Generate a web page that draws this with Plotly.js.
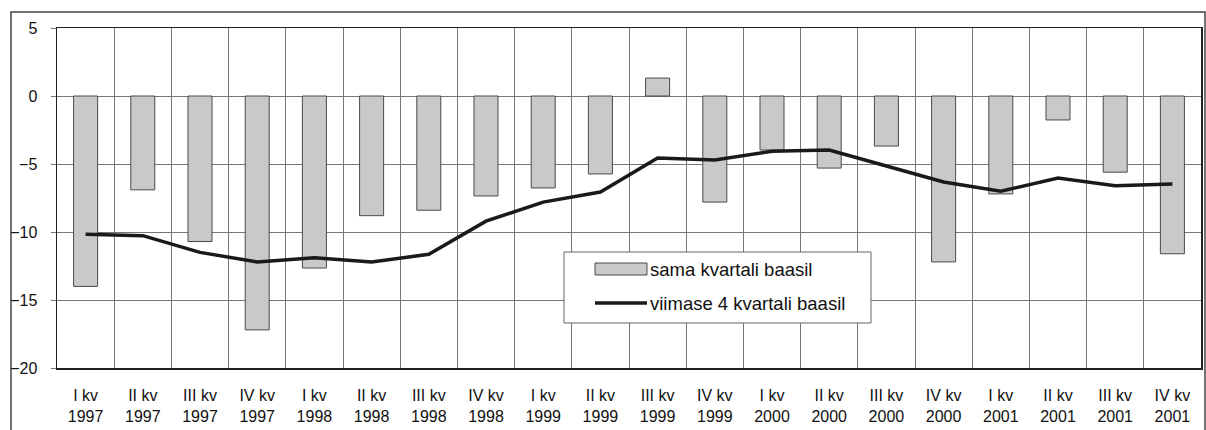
<!DOCTYPE html>
<html>
<head>
<meta charset="utf-8">
<script src="https://cdn.plot.ly/plotly-3.0.1.min.js"></script>
<style>html,body{margin:0;padding:0;background:#fff;}</style>
</head>
<body>
<div id="chart" style="width:1206px;height:430px;"></div>
<script>
var quarters = ["I kv","II kv","III kv","IV kv","I kv","II kv","III kv","IV kv","I kv","II kv","III kv","IV kv","I kv","II kv","III kv","IV kv","I kv","II kv","III kv","IV kv"];
var years = ["1997","1997","1997","1997","1998","1998","1998","1998","1999","1999","1999","1999","2000","2000","2000","2000","2001","2001","2001","2001"];
var sameQuarter = [-14.0,-6.9,-10.7,-17.2,-12.65,-8.8,-8.4,-7.35,-6.76,-5.73,1.32,-7.8,-3.97,-5.3,-3.68,-12.2,-7.2,-1.76,-5.6,-11.6];
var last4Quarters = [-10.17,-10.27,-11.5,-12.2,-11.9,-12.2,-11.64,-9.2,-7.8,-7.06,-4.56,-4.7,-4.07,-3.97,-5.15,-6.32,-7.0,-6.03,-6.6,-6.47];
var seriesNames = ["sama kvartali baasil","viimase 4 kvartali baasil"];

var cats = quarters.map(function(q,i){ return q + "<br>" + years[i]; });

var font = "Liberation Sans, Arial, sans-serif";
var L = 57, R = 1201, T = 28, B = 368, W = 1206, H = 430;
function px(x){ return (x - L) / (R - L); }
function py(y){ return (B - y) / (B - T); }

var traces = [
  {type:"bar", x:cats, y:sameQuarter, name:seriesNames[0],
   marker:{color:"#c9c9c9", line:{color:"#4a4a4a", width:1}}, showlegend:false},
  {type:"scatter", mode:"lines", x:cats, y:last4Quarters, name:seriesNames[1],
   line:{color:"#1a1a1a", width:3.5}, showlegend:false}
];

var layout = {
  width:W, height:H,
  margin:{l:L, r:W-R, t:T, b:H-B},
  paper_bgcolor:"#fff", plot_bgcolor:"#fff",
  bargap:0.58,
  font:{family:font, size:16, color:"#111"},
  xaxis:{type:"category", tickson:"boundaries", showgrid:true, gridcolor:"#777", gridwidth:1,
         ticks:"", showline:true, mirror:true, linecolor:"#222", linewidth:1.5,
         tickfont:{family:font, size:16, color:"#111"}, ticklabelstandoff:12, zeroline:false},
  yaxis:{range:[-20,5], dtick:5, tick0:0, showgrid:true, gridcolor:"#777", gridwidth:1,
         ticks:"outside", ticklen:5, tickcolor:"#777", showline:true, mirror:true, linecolor:"#222", linewidth:1.5,
         zeroline:false, tickfont:{family:font, size:16, color:"#111"}, ticklabelstandoff:10},
  shapes:[
    {type:"rect", xref:"paper", yref:"paper", x0:px(11), x1:px(1205), y0:py(445), y1:py(12),
     line:{color:"#444", width:1.5}, fillcolor:"rgba(0,0,0,0)", layer:"below"},
    {type:"rect", xref:"paper", yref:"paper", x0:px(564), x1:px(871), y0:py(323), y1:py(252),
     line:{color:"#666", width:1}, fillcolor:"#fff", layer:"above"},
    {type:"rect", xref:"paper", yref:"paper", x0:px(595), x1:px(647), y0:py(275), y1:py(263),
     line:{color:"#4a4a4a", width:1}, fillcolor:"#c9c9c9", layer:"above"},
    {type:"line", xref:"paper", yref:"paper", x0:px(595), x1:px(647), y0:py(303), y1:py(303),
     line:{color:"#1a1a1a", width:3.5}, layer:"above"}
  ],
  annotations:[
    {xref:"paper", yref:"paper", x:px(648), y:py(269), xanchor:"left", yanchor:"middle", showarrow:false,
     text:seriesNames[0], font:{family:font, size:18.5, color:"#111"}},
    {xref:"paper", yref:"paper", x:px(648), y:py(303), xanchor:"left", yanchor:"middle", showarrow:false,
     text:seriesNames[1], font:{family:font, size:18.5, color:"#111"}}
  ]
};

Plotly.newPlot("chart", traces, layout, {displayModeBar:false, staticPlot:true});
</script>
</body>
</html>
